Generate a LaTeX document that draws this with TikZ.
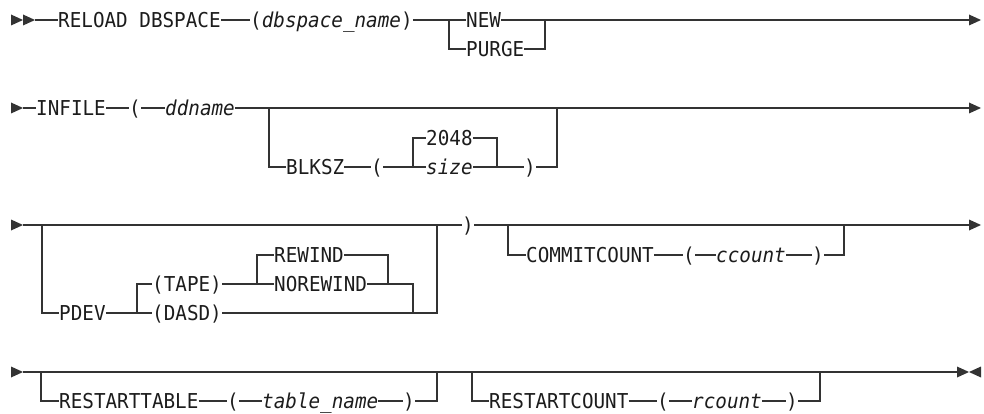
\documentclass[tikz,border=0pt]{standalone}
\usepackage{fontspec}
\setmonofont{DejaVu Sans Mono}[FakeStretch=0.94]
\usepackage{tikz}
\usetikzlibrary{positioning, calc}
\usepackage{xcolor}
\definecolor{railgray}{HTML}{333333}
\definecolor{railtext}{HTML}{1C1C1C}

\begin{document}
\begin{tikzpicture}[
      x=1pt, y=-1pt,
      every node/.style={font=\ttfamily\fontsize{20.5}{22}\selectfont, text=railtext},
      kw/.style={inner xsep=0pt, inner ysep=0pt, text height=15pt, text depth=0pt, anchor=west},
      var/.style={kw, font=\ttfamily\itshape\fontsize{20.5}{22}\selectfont},
      rail/.style={draw=railgray, line width=1.2pt},
      tip/.style={fill=railgray},
    ]
    \useasboundingbox (0,0) rectangle (984,414);

    % Arrow heads
    \foreach \x/\y in {11/20, 23/20, 969/20, 11/108, 969/108, 11/225, 969/225, 11/372, 957/372}
      \fill[tip] (\x,\y-5.5) -- (\x+12,\y) -- (\x,\y+5.5) -- cycle;
    \fill[tip] (981,366.5) -- (969,372) -- (981,377.5) -- cycle;

    % Row 1
    \coordinate (s1) at (35,20);
    \coordinate (e1) at (969,20);
    \coordinate (j1) at (449,20);
    \coordinate (k1) at (545,20);
    \node[kw] (reload) at (58,20) {RELOAD DBSPACE};
    \node[kw] (dbsp) at (250,20) {(\textit{dbspace\_name})};
    \node[kw] (new) at (466,20) {NEW};
    \node[kw] (purge) at (466,49) {PURGE};
    \draw[rail] (s1) -- (reload.west) (reload.east) -- (dbsp.west)
      (dbsp.east) -- (new.west) (new.east) -- (e1);
    \draw[rail] (j1) |- (purge.west) (purge.east) -| (k1);

    % Row 2
    \coordinate (s2) at (23,108);
    \coordinate (e2) at (969,108);
    \coordinate (j2) at (269,108);
    \coordinate (k2) at (557,108);
    \coordinate (j3) at (413,167);
    \coordinate (k3) at (497,167);
    \node[kw] (infile) at (36,108) {INFILE};
    \node[kw] (lp2) at (129,108) {(};
    \node[var] (ddname) at (165,108) {ddname};
    \node[kw] (blksz) at (286,167) {BLKSZ};
    \node[kw] (lp3) at (371,167) {(};
    \node[kw] (dflt) at (426,138) {2048};
    \node[var] (size) at (426,167) {size};
    \node[kw] (rp3) at (524,167) {)};
    \draw[rail] (s2) -- (infile.west) (infile.east) -- (lp2.west)
      (lp2.east) -- (ddname.west) (ddname.east) -- (e2);
    \draw[rail] (j2) |- (blksz.west) (blksz.east) -- (lp3.west) (lp3.east) -- (size.west)
      (size.east) -- (rp3.west) (rp3.east) -| (k2);
    \draw[rail] (j3) |- (dflt.west) (dflt.east) -| (k3);

    % Row 3
    \coordinate (s3) at (23,225);
    \coordinate (e3) at (969,225);
    \coordinate (j4) at (42,225);
    \coordinate (k4) at (437,225);
    \coordinate (j5) at (508,225);
    \coordinate (k5) at (844,225);
    \coordinate (j6) at (137,313);
    \coordinate (k6) at (413,313);
    \coordinate (j7) at (257,284);
    \coordinate (k7) at (388,284);
    \node[kw] (rp4) at (462,225) {)};
    \node[kw] (pdev) at (59,313) {PDEV};
    \node[kw] (tape) at (152,284) {(TAPE)};
    \node[kw] (dasd) at (152,313) {(DASD)};
    \node[kw] (rewind) at (274,255) {REWIND};
    \node[kw] (norew) at (274,284) {NOREWIND};
    \node[kw] (commit) at (526,255) {COMMITCOUNT};
    \node[kw] (lp5) at (683,255) {(};
    \node[var] (ccount) at (716,255) {ccount};
    \node[kw] (rp5) at (812,255) {)};
    \draw[rail] (s3) -- (rp4.west) (rp4.east) -- (e3);
    \draw[rail] (j4) |- (pdev.west) (pdev.east) -- (dasd.west) (dasd.east) -| (k4);
    \draw[rail] (j6) |- (tape.west) (tape.east) -- (norew.west) (norew.east) -| (k6);
    \draw[rail] (j7) |- (rewind.west) (rewind.east) -| (k7);
    \draw[rail] (j5) |- (commit.west) (commit.east) -- (lp5.west) (lp5.east) -- (ccount.west)
      (ccount.east) -- (rp5.west) (rp5.east) -| (k5);

    % Row 4
    \coordinate (s4) at (23,372);
    \coordinate (e4) at (957,372);
    \coordinate (j8) at (41,372);
    \coordinate (k8) at (437,372);
    \coordinate (j9) at (472,372);
    \coordinate (k9) at (820,372);
    \coordinate (m1) at (825,372);
    \coordinate (m2) at (851,372);
    \node[kw] (rtable) at (59,401) {RESTARTTABLE};
    \node[kw] (lp8) at (227,401) {(};
    \node[var] (tname) at (262,401) {table\_name};
    \node[kw] (rp8) at (403,401) {)};
    \node[kw] (rcnt) at (489,401) {RESTARTCOUNT};
    \node[kw] (lp9) at (657,401) {(};
    \node[var] (rcount) at (692,401) {rcount};
    \node[kw] (rp9) at (786,401) {)};
    \draw[rail] (s4) -- (e4);
    \draw[rail, line width=2.4pt] (m1) -- (m2);
    \draw[rail] (j8) |- (rtable.west) (rtable.east) -- (lp8.west) (lp8.east) -- (tname.west)
      (tname.east) -- (rp8.west) (rp8.east) -| (k8);
    \draw[rail] (j9) |- (rcnt.west) (rcnt.east) -- (lp9.west) (lp9.east) -- (rcount.west)
      (rcount.east) -- (rp9.west) (rp9.east) -| (k9);
  \end{tikzpicture}
\end{document}
